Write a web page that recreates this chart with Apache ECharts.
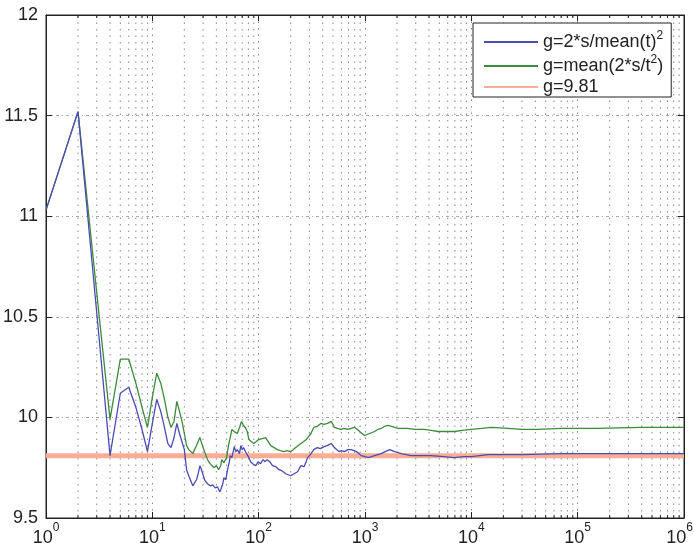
<!DOCTYPE html>
<html>
<head>
<meta charset="utf-8">
<script src="https://cdn.jsdelivr.net/npm/echarts@6/dist/echarts.min.js"></script>
<style>
html,body{margin:0;padding:0;background:#fff;}
#c{width:694px;height:543px;}
</style>
</head>
<body>
<div id="c"></div>
<script>
// ---- data ----
const xTickExps = ['0', '1', '2', '3', '4', '5', '6'];
const yTicks = [9.5, 10, 10.5, 11, 11.5, 12];

const seriesNames = ['g=2*s/mean(t)\u00b2', 'g=mean(2*s/t\u00b2)', 'g=9.81'];

const blueN = [1, 2, 3, 4, 5, 6, 7, 8, 9, 10, 11, 12, 13, 14, 15, 16, 17, 18, 20, 21, 22, 24, 26, 27, 28, 29, 31, 33, 35, 37, 39, 41, 43, 44, 46, 47, 49, 51, 53, 54, 56, 59, 61, 63, 66, 68, 70, 72, 75, 78, 81, 84, 88, 94, 99, 104, 110, 115, 120, 127, 135, 145, 155, 165, 180, 190, 200, 215, 232, 250, 267, 280, 288, 300, 310, 330, 356, 380, 413, 440, 480, 500, 515, 540, 570, 600, 640, 690, 740, 790, 830, 880, 920, 1000, 1070, 1150, 1230, 1320, 1420, 1550, 1700, 1800, 1900, 2050, 2200, 2450, 2700, 3300, 4200, 5500, 6900, 8500, 10000, 14400, 30000, 70000, 200000, 1000000];
const blueG = [11.03, 11.52, 10.52, 9.81, 10.12, 10.15, 10.05, 9.94, 9.83, 9.97, 10.09, 10.03, 9.95, 9.87, 9.85, 9.90, 9.97, 9.92, 9.84, 9.74, 9.71, 9.66, 9.69, 9.72, 9.76, 9.74, 9.69, 9.67, 9.66, 9.665, 9.65, 9.655, 9.63, 9.64, 9.67, 9.70, 9.69, 9.74, 9.78, 9.81, 9.80, 9.855, 9.83, 9.84, 9.82, 9.86, 9.84, 9.85, 9.83, 9.83, 9.80, 9.78, 9.77, 9.76, 9.78, 9.77, 9.79, 9.78, 9.79, 9.78, 9.76, 9.755, 9.74, 9.735, 9.72, 9.715, 9.71, 9.72, 9.73, 9.76, 9.755, 9.78, 9.80, 9.81, 9.82, 9.84, 9.85, 9.845, 9.855, 9.86, 9.87, 9.86, 9.85, 9.84, 9.83, 9.835, 9.83, 9.84, 9.84, 9.835, 9.83, 9.82, 9.81, 9.805, 9.80, 9.805, 9.81, 9.815, 9.82, 9.83, 9.84, 9.835, 9.83, 9.825, 9.82, 9.815, 9.81, 9.81, 9.81, 9.805, 9.80, 9.805, 9.805, 9.815, 9.815, 9.82, 9.82, 9.82];

const greenN = [1, 2, 3, 4, 5, 6, 7, 8, 9, 10, 11, 12, 13, 14, 15, 16, 17, 18, 19, 20, 21, 22, 24, 26, 28, 30, 33, 35, 38, 40, 42, 44, 45, 47, 48, 50, 52, 54, 56, 59, 63, 66, 69, 72, 75, 78, 81, 85, 90, 95, 100, 108, 116, 123, 130, 140, 150, 160, 172, 185, 200, 212, 223, 236, 250, 265, 280, 295, 310, 330, 355, 384, 410, 445, 480, 500, 515, 550, 595, 640, 690, 740, 800, 850, 890, 940, 990, 1050, 1100, 1230, 1320, 1420, 1520, 1650, 1780, 1900, 2050, 2200, 2500, 2930, 3600, 4200, 4850, 5800, 6900, 8300, 10000, 12500, 15500, 22000, 30000, 43000, 70000, 150000, 400000, 1000000];
const greenG = [11.03, 11.52, 10.62, 9.99, 10.29, 10.29, 10.17, 10.05, 9.95, 10.10, 10.22, 10.17, 10.09, 10.00, 9.95, 9.98, 10.08, 10.03, 9.98, 9.92, 9.86, 9.84, 9.82, 9.86, 9.90, 9.85, 9.79, 9.77, 9.75, 9.76, 9.74, 9.76, 9.79, 9.775, 9.77, 9.80, 9.86, 9.90, 9.94, 9.93, 9.92, 9.95, 9.98, 9.96, 9.95, 9.93, 9.89, 9.88, 9.87, 9.88, 9.89, 9.895, 9.90, 9.88, 9.86, 9.85, 9.84, 9.835, 9.83, 9.835, 9.83, 9.84, 9.85, 9.86, 9.87, 9.88, 9.89, 9.905, 9.92, 9.95, 9.955, 9.97, 9.965, 9.97, 9.98, 9.965, 9.95, 9.945, 9.94, 9.945, 9.94, 9.945, 9.95, 9.94, 9.93, 9.92, 9.91, 9.915, 9.92, 9.93, 9.94, 9.945, 9.955, 9.96, 9.955, 9.95, 9.945, 9.945, 9.945, 9.94, 9.94, 9.935, 9.93, 9.93, 9.93, 9.935, 9.94, 9.945, 9.95, 9.945, 9.94, 9.94, 9.945, 9.945, 9.95, 9.95];

const refN = [1, 1000000];
const refG = [9.81, 9.81];

// ---- build ----
const FONT = "'Liberation Sans', Arial, Helvetica, sans-serif";
const pairs = (xs, ys) => xs.map((x, i) => [x, ys[i]]);

// minor log positions (2..9 in each decade) for grid lines / ticks
const minorX = [];
for (let d = 0; d < 6; d++) {
  for (let k = 2; k <= 9; k++) minorX.push([k * Math.pow(10, d)]);
}
const Y0 = yTicks[0], Y1 = yTicks[yTicks.length - 1];

const chart = echarts.init(document.getElementById('c'), null, {renderer: 'canvas'});

function legendFmt(name) {
  if (name === seriesNames[0]) return '{t|g=2*s/mean(t)}{s|2}';
  if (name === seriesNames[1]) return '{t|g=mean(2*s/t}{s|2}{t|)}';
  return '{t|' + name + '}';
}

function xLabelFmt(v) {
  const e = Math.round(Math.log10(v));
  const supKey = (e === xTickExps.length - 1) ? 'sl' : 's';
  return '{b|10}{' + supKey + '|' + xTickExps[e] + '}';
}

const option = {
  animation: false,
  backgroundColor: '#fff',
  grid: {left: 46, right: 10, top: 15, bottom: 25, outerBoundsMode: 'none', containLabel: false,
         show: true, borderColor: '#222', borderWidth: 1, backgroundColor: 'transparent'},
  xAxis: [{
    type: 'log', logBase: 10, min: 1, max: 1e6, interval: 1, splitNumber: 6,
    axisLine: {show: true, onZero: false, lineStyle: {color: '#222', width: 1}},
    axisTick: {show: true, inside: true, length: 6, lineStyle: {color: '#222'}},
    axisLabel: {
      margin: 10, hideOverlap: false,
      formatter: xLabelFmt,
      rich: {
        b: {fontSize: 18, lineHeight: 20, fontFamily: FONT, color: '#222'},
        s: {fontSize: 12, lineHeight: 12, fontFamily: FONT, color: '#222', padding: [0, 0, 20, 0]},
        sl: {fontSize: 12, lineHeight: 12, fontFamily: FONT, color: '#222', padding: [0, 9, 20, 0]}
      }
    },
    splitLine: {show: true, lineStyle: {color: '#888', width: 1, type: [1.5, 5]}}
  }, {
    type: 'log', logBase: 10, min: 1, max: 1e6, interval: 1, splitNumber: 6, position: 'top',
    axisLine: {show: true, onZero: false, lineStyle: {color: '#222', width: 1}},
    axisTick: {show: true, inside: true, length: 6, lineStyle: {color: '#222'}},
    axisLabel: {show: false}, splitLine: {show: false}
  }],
  yAxis: [{
    type: 'value', min: Y0, max: Y1, interval: 0.5,
    axisLine: {show: true, onZero: false, lineStyle: {color: '#222', width: 1}},
    axisTick: {show: true, inside: true, length: 6, lineStyle: {color: '#222'}},
    axisLabel: {margin: 8, fontSize: 18, fontFamily: FONT, color: '#222', formatter: v => String(v)},
    splitLine: {show: true, lineStyle: {color: '#aaa', width: 1, type: [3, 3, 1, 3]}}
  }, {
    type: 'value', min: Y0, max: Y1, interval: 0.5, position: 'right',
    axisLine: {show: true, onZero: false, lineStyle: {color: '#222', width: 1}},
    axisTick: {show: true, inside: true, length: 6, lineStyle: {color: '#222'}},
    axisLabel: {show: false}, splitLine: {show: false}
  }],
  legend: {
    left: 473, top: 23, orient: 'vertical',
    backgroundColor: '#fff', borderColor: '#222', borderWidth: 1, borderRadius: 0,
    padding: [7, 8, 1, 10], itemGap: 0, itemWidth: 54, itemHeight: 14,
    itemStyle: {opacity: 0},
    data: [
      {name: seriesNames[0]},
      {name: seriesNames[1]},
      {name: seriesNames[2], lineStyle: {width: 2}}
    ],
    formatter: legendFmt,
    textStyle: {
      rich: {
        t: {fontSize: 18, lineHeight: 22, fontFamily: FONT, color: '#222'},
        s: {fontSize: 12, lineHeight: 12, fontFamily: FONT, color: '#222', padding: [0, 0, 12, 0]}
      }
    }
  },
  series: [
    {
      type: 'custom', silent: true, z: 1, xAxisIndex: 0, yAxisIndex: 0,
      data: minorX, clip: false,
      renderItem: (params, api) => {
        const x = api.value(0);
        const pb = api.coord([x, Y0]);
        const pt = api.coord([x, Y1]);
        return {
          type: 'group',
          children: [
            {type: 'line', shape: {x1: pb[0], y1: pb[1], x2: pt[0], y2: pt[1]},
             style: {stroke: '#888', lineWidth: 1, lineDash: [1.5, 5]}},
            {type: 'line', shape: {x1: pb[0], y1: pb[1], x2: pb[0], y2: pb[1] - 3},
             style: {stroke: '#222', lineWidth: 1}},
            {type: 'line', shape: {x1: pt[0], y1: pt[1], x2: pt[0], y2: pt[1] + 3},
             style: {stroke: '#222', lineWidth: 1}}
          ]
        };
      }
    },
    {
      name: seriesNames[2], type: 'line', z: 2, symbol: 'none', showSymbol: false,
      data: pairs(refN, refG),
      lineStyle: {color: '#f9ae94', width: 5}, itemStyle: {color: '#f9ae94'}
    },
    {
      name: seriesNames[0], type: 'line', z: 4, symbol: 'none', showSymbol: false,
      data: pairs(blueN, blueG),
      lineStyle: {color: '#4b4bb4', width: 1.3}, itemStyle: {color: '#4b4bb4'}
    },
    {
      name: seriesNames[1], type: 'line', z: 3, symbol: 'none', showSymbol: false,
      data: pairs(greenN, greenG),
      lineStyle: {color: '#3c8a3c', width: 1.3}, itemStyle: {color: '#3c8a3c'}
    }
  ]
};
chart.setOption(option);
</script>
</body>
</html>
